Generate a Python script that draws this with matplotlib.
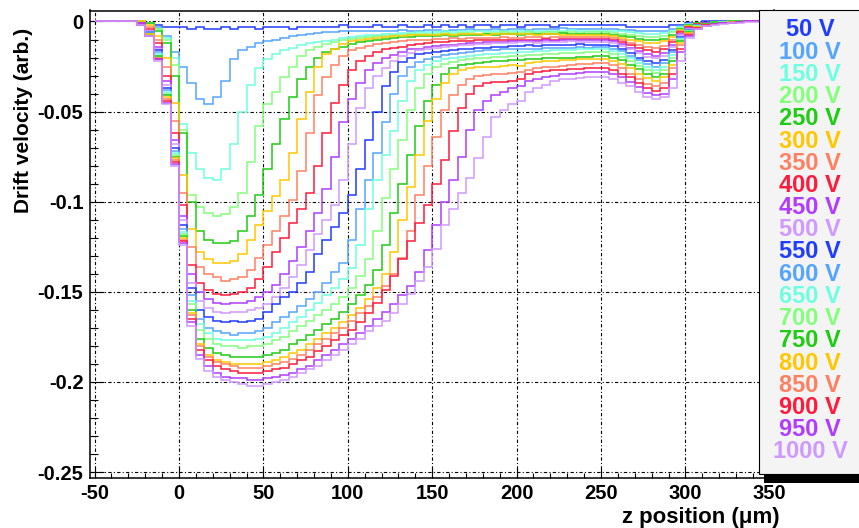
"""Drift velocity profiles vs depth for a bias-voltage scan (ROOT-style canvas)."""

import matplotlib

matplotlib.use("Agg")
import matplotlib.pyplot as plt
import numpy as np
from matplotlib.patches import Rectangle
from matplotlib.ticker import FuncFormatter, MultipleLocator

plt.rcParams["font.family"] = ["Liberation Sans", "DejaVu Sans"]
plt.rcParams["font.weight"] = "bold"
plt.rcParams["axes.unicode_minus"] = False

# histogram binning: 5 um bins from -50 to 350 um
bin_edges = np.arange(-50.0, 355.0, 5.0)

voltages = [50, 100, 150, 200, 250, 300, 350, 400, 450, 500,
            550, 600, 650, 700, 750, 800, 850, 900, 950, 1000]

palette = ["#1f3cff", "#55a5ff", "#6dffdf", "#84ff7c", "#1fcc14",
           "#ffc700", "#ff8061", "#ff1a3c", "#b03cff", "#cf99ff"]

v50 = [0, 0, 0, 0, 0, 0, -0.001, -0.002, -0.003, -0.003,
       -0.003, -0.004, -0.003, -0.004, -0.004, -0.003, -0.004, -0.003, -0.003, -0.004,
       -0.003, -0.003, -0.003, -0.004, -0.003, -0.003, -0.003, -0.003, -0.003, -0.002,
       -0.003, -0.003, -0.003, -0.002, -0.003, -0.003, -0.002, -0.003, -0.003, -0.002,
       -0.003, -0.002, -0.003, -0.002, -0.003, -0.002, -0.002, -0.003, -0.002, -0.002,
       -0.003, -0.002, -0.002, -0.002, -0.003, -0.002, -0.002, -0.002, -0.002, -0.002,
       -0.002, -0.002, -0.002, -0.003, -0.003, -0.003, -0.003, -0.003, -0.002, -0.002,
       -0.001, -0.001, 0, 0, 0, 0, 0, 0, 0, 0]
v100 = [0, 0, 0, 0, 0, 0, -0.001, -0.003, -0.008, -0.017,
        -0.025, -0.034, -0.043, -0.046, -0.042, -0.033, -0.021, -0.016, -0.014, -0.012,
        -0.011, -0.010, -0.009, -0.008, -0.0075, -0.007, -0.0065, -0.006, -0.006, -0.0055,
        -0.0055, -0.005, -0.005, -0.0055, -0.005, -0.005, -0.0045, -0.005, -0.005, -0.0045,
        -0.0045, -0.005, -0.0045, -0.0045, -0.004, -0.0045, -0.0045, -0.004, -0.0045, -0.004,
        -0.004, -0.0045, -0.004, -0.004, -0.004, -0.0035, -0.004, -0.004, -0.004, -0.004,
        -0.004, -0.004, -0.0045, -0.0045, -0.005, -0.0055, -0.0055, -0.005, -0.004, -0.0025,
        -0.0015, -0.001, -0.001, -0.0005, -0.0005, 0, 0, 0, 0, 0]
v150 = [0, 0, 0, 0, 0, 0, -0.001, -0.004, -0.009, -0.020,
        -0.057, -0.073, -0.082, -0.087, -0.088, -0.082, -0.068, -0.050, -0.035, -0.026,
        -0.021, -0.018, -0.016, -0.0145, -0.013, -0.012, -0.0115, -0.011, -0.010, -0.009,
        -0.0085, -0.008, -0.0075, -0.0075, -0.007, -0.007, -0.0065, -0.0065, -0.006, -0.006,
        -0.006, -0.0055, -0.006, -0.0055, -0.0055, -0.005, -0.0055, -0.0055, -0.005, -0.005,
        -0.0055, -0.005, -0.005, -0.005, -0.005, -0.005, -0.0045, -0.005, -0.005, -0.005,
        -0.005, -0.005, -0.0055, -0.006, -0.0065, -0.007, -0.007, -0.0065, -0.005, -0.003,
        -0.0015, -0.001, -0.001, -0.0005, -0.0005, 0, 0, 0, 0, 0]
v200 = [0, 0, 0, 0, 0, 0, -0.001, -0.004, -0.010, -0.024,
        -0.060, -0.096, -0.103, -0.106, -0.108, -0.107, -0.103, -0.095, -0.078, -0.058,
        -0.046, -0.039, -0.031, -0.025, -0.019, -0.016, -0.014, -0.0125, -0.0115, -0.0105,
        -0.0095, -0.009, -0.0085, -0.008, -0.008, -0.0075, -0.0075, -0.007, -0.007, -0.007,
        -0.007, -0.0065, -0.007, -0.0065, -0.0065, -0.007, -0.0065, -0.0065, -0.006, -0.0065,
        -0.0065, -0.006, -0.0065, -0.006, -0.006, -0.006, -0.006, -0.0065, -0.006, -0.006,
        -0.006, -0.0065, -0.007, -0.0075, -0.008, -0.0085, -0.0085, -0.008, -0.006, -0.0035,
        -0.002, -0.001, -0.001, -0.0005, -0.0005, 0, 0, 0, 0, 0]
v250 = [0, 0, 0, 0, 0, 0, -0.001, -0.005, -0.012, -0.030,
        -0.062, -0.100, -0.116, -0.121, -0.123, -0.123, -0.122, -0.116, -0.108, -0.096,
        -0.082, -0.068, -0.054, -0.042, -0.032, -0.025, -0.020, -0.017, -0.0155, -0.014,
        -0.0125, -0.0115, -0.011, -0.010, -0.0095, -0.009, -0.0085, -0.0085, -0.008, -0.008,
        -0.008, -0.0075, -0.008, -0.0075, -0.0075, -0.0075, -0.007, -0.0075, -0.007, -0.007,
        -0.0075, -0.007, -0.007, -0.007, -0.007, -0.0065, -0.007, -0.007, -0.007, -0.007,
        -0.007, -0.0075, -0.008, -0.0085, -0.0095, -0.010, -0.0105, -0.0095, -0.0075, -0.004,
        -0.002, -0.001, -0.001, -0.0005, -0.0005, 0, 0, 0, 0, 0]
v300 = [0, 0, 0, 0, 0, 0, -0.002, -0.008, -0.020, -0.045,
        -0.085, -0.115, -0.128, -0.132, -0.134, -0.134, -0.133, -0.129, -0.121, -0.113,
        -0.105, -0.097, -0.088, -0.073, -0.054, -0.039, -0.025, -0.018, -0.015, -0.0125,
        -0.011, -0.010, -0.0095, -0.009, -0.0085, -0.008, -0.008, -0.0075, -0.0075, -0.0075,
        -0.0075, -0.007, -0.0075, -0.007, -0.007, -0.007, -0.0075, -0.007, -0.007, -0.007,
        -0.007, -0.007, -0.0075, -0.007, -0.007, -0.0075, -0.0075, -0.0075, -0.0075, -0.0075,
        -0.0075, -0.008, -0.009, -0.010, -0.011, -0.012, -0.0122, -0.011, -0.0085, -0.0045,
        -0.0025, -0.0015, -0.001, -0.001, -0.0005, -0.0005, 0, 0, 0, 0]
v350 = [0, 0, 0, 0, 0, -0.001, -0.003, -0.010, -0.025, -0.055,
        -0.095, -0.125, -0.136, -0.140, -0.142, -0.144, -0.143, -0.142, -0.138, -0.131,
        -0.124, -0.116, -0.108, -0.099, -0.083, -0.062, -0.041, -0.031, -0.024, -0.019,
        -0.016, -0.0145, -0.0135, -0.0125, -0.012, -0.0115, -0.011, -0.0105, -0.010, -0.010,
        -0.0095, -0.0095, -0.009, -0.0095, -0.009, -0.009, -0.009, -0.009, -0.0085, -0.009,
        -0.009, -0.0085, -0.0085, -0.009, -0.0085, -0.0085, -0.0085, -0.0085, -0.0085, -0.0085,
        -0.0085, -0.009, -0.0105, -0.012, -0.013, -0.014, -0.0146, -0.0135, -0.010, -0.0055,
        -0.003, -0.0015, -0.001, -0.001, -0.0005, -0.0005, 0, 0, 0, 0]
v400 = [0, 0, 0, 0, 0, -0.001, -0.004, -0.012, -0.030, -0.062,
        -0.102, -0.135, -0.145, -0.149, -0.151, -0.152, -0.151, -0.150, -0.148, -0.143,
        -0.136, -0.128, -0.120, -0.112, -0.104, -0.095, -0.080, -0.062, -0.045, -0.035,
        -0.027, -0.022, -0.019, -0.017, -0.0155, -0.0145, -0.014, -0.013, -0.0125, -0.012,
        -0.0115, -0.0115, -0.011, -0.011, -0.011, -0.0105, -0.0105, -0.0105, -0.010, -0.0105,
        -0.010, -0.010, -0.010, -0.0095, -0.010, -0.0095, -0.0095, -0.0095, -0.0095, -0.0095,
        -0.0095, -0.010, -0.0115, -0.013, -0.0145, -0.016, -0.0168, -0.0155, -0.0115, -0.006,
        -0.003, -0.0015, -0.001, -0.001, -0.0005, -0.0005, 0, 0, 0, 0]
v450 = [0, 0, 0, 0, 0, -0.001, -0.005, -0.014, -0.033, -0.066,
        -0.108, -0.140, -0.150, -0.154, -0.156, -0.157, -0.156, -0.156, -0.155, -0.153,
        -0.150, -0.146, -0.140, -0.133, -0.125, -0.116, -0.106, -0.093, -0.075, -0.056,
        -0.043, -0.034, -0.027, -0.023, -0.0205, -0.0185, -0.017, -0.0155, -0.015, -0.014,
        -0.0135, -0.013, -0.013, -0.0125, -0.012, -0.012, -0.0115, -0.0115, -0.0115, -0.011,
        -0.011, -0.011, -0.011, -0.0105, -0.011, -0.0105, -0.0105, -0.0105, -0.0105, -0.0105,
        -0.0105, -0.011, -0.0125, -0.0145, -0.0165, -0.018, -0.019, -0.0175, -0.013, -0.007,
        -0.0035, -0.002, -0.001, -0.001, -0.0005, -0.0005, 0, 0, 0, 0]
v500 = [0, 0, 0, 0, 0, -0.002, -0.005, -0.015, -0.035, -0.068,
        -0.110, -0.145, -0.155, -0.159, -0.161, -0.162, -0.161, -0.161, -0.160, -0.159,
        -0.157, -0.153, -0.148, -0.142, -0.135, -0.127, -0.118, -0.110, -0.102, -0.088,
        -0.068, -0.048, -0.037, -0.030, -0.026, -0.022, -0.019, -0.0175, -0.016, -0.015,
        -0.0145, -0.014, -0.0135, -0.013, -0.013, -0.0125, -0.0125, -0.012, -0.012, -0.012,
        -0.0115, -0.0115, -0.012, -0.0115, -0.0115, -0.0115, -0.011, -0.0115, -0.0115, -0.0115,
        -0.0115, -0.012, -0.0135, -0.0155, -0.0175, -0.0195, -0.0204, -0.019, -0.014, -0.0075,
        -0.004, -0.002, -0.0015, -0.001, -0.0005, -0.0005, 0, 0, 0, 0]
v550 = [0, 0, 0, 0, 0, -0.002, -0.006, -0.016, -0.037, -0.070,
        -0.113, -0.148, -0.160, -0.164, -0.166, -0.167, -0.166, -0.167, -0.166, -0.165,
        -0.161, -0.157, -0.153, -0.150, -0.145, -0.139, -0.129, -0.121, -0.114, -0.106,
        -0.096, -0.082, -0.066, -0.050, -0.036, -0.028, -0.0225, -0.020, -0.018, -0.0175,
        -0.017, -0.0165, -0.016, -0.0155, -0.015, -0.0145, -0.0145, -0.014, -0.014, -0.0135,
        -0.0135, -0.013, -0.0135, -0.013, -0.013, -0.013, -0.013, -0.0125, -0.013, -0.013,
        -0.013, -0.0135, -0.0155, -0.0175, -0.020, -0.022, -0.0232, -0.0215, -0.016, -0.0085,
        -0.0045, -0.002, -0.0015, -0.001, -0.0005, -0.0005, 0, 0, 0, 0]
v600 = [0, 0, 0, 0, 0, -0.002, -0.006, -0.017, -0.038, -0.072,
        -0.115, -0.152, -0.165, -0.170, -0.172, -0.173, -0.174, -0.173, -0.173, -0.172,
        -0.170, -0.167, -0.164, -0.161, -0.158, -0.154, -0.150, -0.145, -0.139, -0.134,
        -0.121, -0.104, -0.088, -0.073, -0.056, -0.040, -0.030, -0.025, -0.0225, -0.021,
        -0.0195, -0.0185, -0.018, -0.0175, -0.017, -0.0165, -0.016, -0.016, -0.0155, -0.0155,
        -0.015, -0.015, -0.015, -0.0145, -0.0145, -0.0145, -0.0145, -0.014, -0.0145, -0.014,
        -0.014, -0.015, -0.0165, -0.019, -0.0215, -0.0235, -0.025, -0.023, -0.017, -0.009,
        -0.0045, -0.002, -0.0015, -0.001, -0.0005, -0.0005, 0, 0, 0, 0]
v650 = [0, 0, 0, 0, 0, -0.002, -0.007, -0.018, -0.039, -0.073,
        -0.117, -0.155, -0.168, -0.173, -0.176, -0.177, -0.177, -0.177, -0.177, -0.176,
        -0.175, -0.173, -0.170, -0.167, -0.164, -0.160, -0.156, -0.152, -0.148, -0.143,
        -0.137, -0.124, -0.104, -0.088, -0.074, -0.061, -0.044, -0.033, -0.027, -0.024,
        -0.022, -0.021, -0.020, -0.0195, -0.019, -0.0185, -0.018, -0.018, -0.0175, -0.0175,
        -0.017, -0.017, -0.0165, -0.0165, -0.016, -0.016, -0.016, -0.0155, -0.0155, -0.0155,
        -0.0155, -0.0165, -0.018, -0.0205, -0.023, -0.0255, -0.027, -0.025, -0.0185, -0.0095,
        -0.005, -0.0025, -0.0015, -0.001, -0.0005, -0.0005, 0, 0, 0, 0]
v700 = [0, 0, 0, 0, 0, -0.002, -0.007, -0.019, -0.040, -0.074,
        -0.118, -0.157, -0.171, -0.176, -0.179, -0.180, -0.180, -0.181, -0.180, -0.180,
        -0.179, -0.177, -0.175, -0.172, -0.169, -0.166, -0.163, -0.160, -0.157, -0.153,
        -0.148, -0.141, -0.132, -0.116, -0.098, -0.082, -0.066, -0.049, -0.037, -0.029,
        -0.025, -0.0235, -0.0225, -0.0215, -0.021, -0.0205, -0.020, -0.0195, -0.0195, -0.019,
        -0.019, -0.0185, -0.0185, -0.018, -0.018, -0.0175, -0.0175, -0.0175, -0.017, -0.017,
        -0.017, -0.018, -0.0195, -0.022, -0.0245, -0.027, -0.0286, -0.027, -0.020, -0.010,
        -0.0055, -0.0025, -0.0015, -0.001, -0.0005, -0.0005, 0, 0, 0, 0]
v750 = [0, 0, 0, 0, 0, -0.002, -0.007, -0.019, -0.041, -0.075,
        -0.119, -0.160, -0.176, -0.181, -0.184, -0.185, -0.186, -0.186, -0.186, -0.186,
        -0.185, -0.184, -0.182, -0.179, -0.177, -0.174, -0.171, -0.168, -0.165, -0.161,
        -0.157, -0.152, -0.146, -0.138, -0.124, -0.106, -0.090, -0.074, -0.058, -0.044,
        -0.035, -0.029, -0.026, -0.024, -0.0235, -0.023, -0.0225, -0.022, -0.022, -0.0215,
        -0.0215, -0.021, -0.021, -0.0205, -0.0205, -0.020, -0.020, -0.0195, -0.0195, -0.019,
        -0.019, -0.020, -0.0215, -0.024, -0.0265, -0.029, -0.0308, -0.029, -0.022, -0.011,
        -0.006, -0.003, -0.0015, -0.001, -0.001, -0.0005, 0, 0, 0, 0]
v800 = [0, 0, 0, 0, 0, -0.002, -0.007, -0.020, -0.042, -0.076,
        -0.120, -0.162, -0.179, -0.185, -0.188, -0.189, -0.190, -0.190, -0.190, -0.190,
        -0.189, -0.188, -0.186, -0.184, -0.182, -0.179, -0.176, -0.173, -0.170, -0.167,
        -0.163, -0.159, -0.154, -0.148, -0.140, -0.128, -0.110, -0.092, -0.074, -0.055,
        -0.043, -0.034, -0.029, -0.027, -0.026, -0.0255, -0.025, -0.025, -0.0245, -0.024,
        -0.0245, -0.023, -0.0225, -0.022, -0.022, -0.0215, -0.0215, -0.021, -0.021, -0.021,
        -0.021, -0.022, -0.0235, -0.026, -0.029, -0.0315, -0.033, -0.031, -0.024, -0.012,
        -0.0065, -0.003, -0.002, -0.0015, -0.001, -0.0005, -0.0005, 0, 0, 0]
v850 = [0, 0, 0, 0, 0, -0.002, -0.008, -0.020, -0.043, -0.077,
        -0.121, -0.163, -0.180, -0.186, -0.189, -0.190, -0.191, -0.192, -0.192, -0.192,
        -0.191, -0.190, -0.189, -0.187, -0.185, -0.182, -0.179, -0.176, -0.173, -0.170,
        -0.166, -0.162, -0.158, -0.153, -0.147, -0.140, -0.131, -0.116, -0.096, -0.080,
        -0.064, -0.049, -0.041, -0.035, -0.032, -0.030, -0.0295, -0.029, -0.029, -0.0285,
        -0.028, -0.027, -0.026, -0.0255, -0.025, -0.0245, -0.024, -0.0235, -0.0235, -0.023,
        -0.023, -0.024, -0.026, -0.029, -0.032, -0.0345, -0.036, -0.034, -0.026, -0.013,
        -0.007, -0.0035, -0.002, -0.0015, -0.001, -0.0005, -0.0005, 0, 0, 0]
v900 = [0, 0, 0, 0, 0, -0.002, -0.008, -0.021, -0.044, -0.078,
        -0.122, -0.165, -0.182, -0.188, -0.191, -0.193, -0.194, -0.195, -0.195, -0.195,
        -0.194, -0.193, -0.192, -0.190, -0.188, -0.186, -0.183, -0.180, -0.177, -0.174,
        -0.171, -0.167, -0.162, -0.156, -0.149, -0.141, -0.132, -0.122, -0.112, -0.102,
        -0.090, -0.077, -0.061, -0.048, -0.040, -0.036, -0.034, -0.0335, -0.0335, -0.033,
        -0.032, -0.029, -0.028, -0.0275, -0.027, -0.027, -0.0265, -0.0265, -0.026, -0.026,
        -0.026, -0.027, -0.029, -0.031, -0.034, -0.037, -0.0387, -0.037, -0.029, -0.015,
        -0.0075, -0.0035, -0.002, -0.0015, -0.001, -0.001, -0.0005, 0, 0, 0]
v950 = [0, 0, 0, 0, 0, -0.002, -0.008, -0.021, -0.045, -0.079,
        -0.123, -0.167, -0.185, -0.191, -0.195, -0.197, -0.198, -0.198, -0.199, -0.199,
        -0.198, -0.197, -0.196, -0.195, -0.193, -0.191, -0.188, -0.185, -0.182, -0.179,
        -0.176, -0.173, -0.169, -0.165, -0.161, -0.157, -0.152, -0.147, -0.139, -0.127,
        -0.113, -0.100, -0.088, -0.075, -0.060, -0.049, -0.044, -0.041, -0.039, -0.037,
        -0.036, -0.033, -0.032, -0.031, -0.030, -0.029, -0.029, -0.0285, -0.028, -0.028,
        -0.028, -0.029, -0.031, -0.0335, -0.0365, -0.0395, -0.041, -0.040, -0.032, -0.017,
        -0.008, -0.004, -0.0025, -0.0015, -0.001, -0.001, -0.0005, 0, 0, 0]
v1000 = [0, 0, 0, 0, 0, -0.002, -0.008, -0.022, -0.046, -0.080,
         -0.124, -0.169, -0.187, -0.194, -0.197, -0.199, -0.200, -0.201, -0.202, -0.202,
         -0.201, -0.200, -0.199, -0.197, -0.195, -0.193, -0.191, -0.188, -0.185, -0.182,
         -0.179, -0.176, -0.172, -0.169, -0.166, -0.162, -0.157, -0.151, -0.144, -0.136,
         -0.126, -0.113, -0.104, -0.095, -0.087, -0.076, -0.064, -0.053, -0.049, -0.046,
         -0.044, -0.039, -0.037, -0.035, -0.033, -0.032, -0.032, -0.0315, -0.031, -0.031,
         -0.031, -0.032, -0.034, -0.036, -0.039, -0.042, -0.043, -0.042, -0.037, -0.022,
         -0.009, -0.004, -0.0025, -0.002, -0.0015, -0.001, -0.001, -0.0005, -0.0005, 0]

series = [v50, v100, v150, v200, v250, v300, v350, v400, v450, v500,
          v550, v600, v650, v700, v750, v800, v850, v900, v950, v1000]

W, H = 859, 528


def main() -> None:
    fig = plt.figure(figsize=(W / 100, H / 100), dpi=100)
    fig.patch.set_facecolor("white")
    ax = fig.add_axes([90.4 / W, 50 / H, (774 - 90.4) / W, 467.5 / H])

    for i, values in enumerate(series):
        ax.stairs(values, bin_edges, baseline=None,
                  color=palette[i % len(palette)], linewidth=1.1)

    ax.set_xlim(-52.5, 352.5)
    ax.set_ylim(-0.2533, 0.0061)

    ax.xaxis.set_major_locator(MultipleLocator(50))
    ax.xaxis.set_minor_locator(MultipleLocator(10))
    ax.yaxis.set_major_locator(MultipleLocator(0.05))
    ax.yaxis.set_minor_locator(MultipleLocator(0.01))
    fmt = FuncFormatter(lambda v, _: "0" if abs(v) < 1e-9 else f"{v:g}")
    ax.xaxis.set_major_formatter(fmt)
    ax.yaxis.set_major_formatter(fmt)

    ax.set_axisbelow(True)
    ax.grid(True, which="major", color="black", linewidth=0.8,
            linestyle=(0, (3, 2, 1, 2)))

    ax.tick_params(axis="both", which="both", direction="in",
                   top=False, right=False, width=0.8, colors="black")
    ax.tick_params(axis="x", which="major", length=7, pad=4, labelsize=14.5)
    ax.tick_params(axis="x", which="minor", length=3.5)
    ax.tick_params(axis="y", which="major", length=10, pad=5, labelsize=14.5)
    ax.tick_params(axis="y", which="minor", length=6)
    for side in ("left", "bottom", "top", "right"):
        ax.spines[side].set_linewidth(1.1)

    fig.text(24 / W, 1 - 28 / H, "Drift velocity (arb.)", rotation=90,
             ha="center", va="top", fontsize=15, fontweight="bold")
    fig.text(780 / W, 1 - 517 / H, "z position (\u03bcm)",
             ha="right", va="center", fontsize=16, fontweight="bold")

    # legend box with ROOT-style drop shadow
    fig.add_artist(Rectangle((764 / W, 1 - 483 / H), 120 / W, 463 / H,
                             transform=fig.transFigure, facecolor="black",
                             edgecolor="none"))
    fig.add_artist(Rectangle((759 / W, 1 - 474 / H), 110 / W, 464 / H,
                             transform=fig.transFigure, facecolor="#f4f4f4",
                             edgecolor="black", linewidth=0.8))
    for i, volt in enumerate(voltages):
        fig.text(810 / W, 1 - (30 + 22.2 * i) / H, f"{volt} V",
                 color=palette[i % len(palette)], fontsize=17,
                 fontweight="bold", ha="center", va="center")

    fig.savefig("out.png", dpi=100)
    plt.close(fig)


if __name__ == "__main__":
    main()
